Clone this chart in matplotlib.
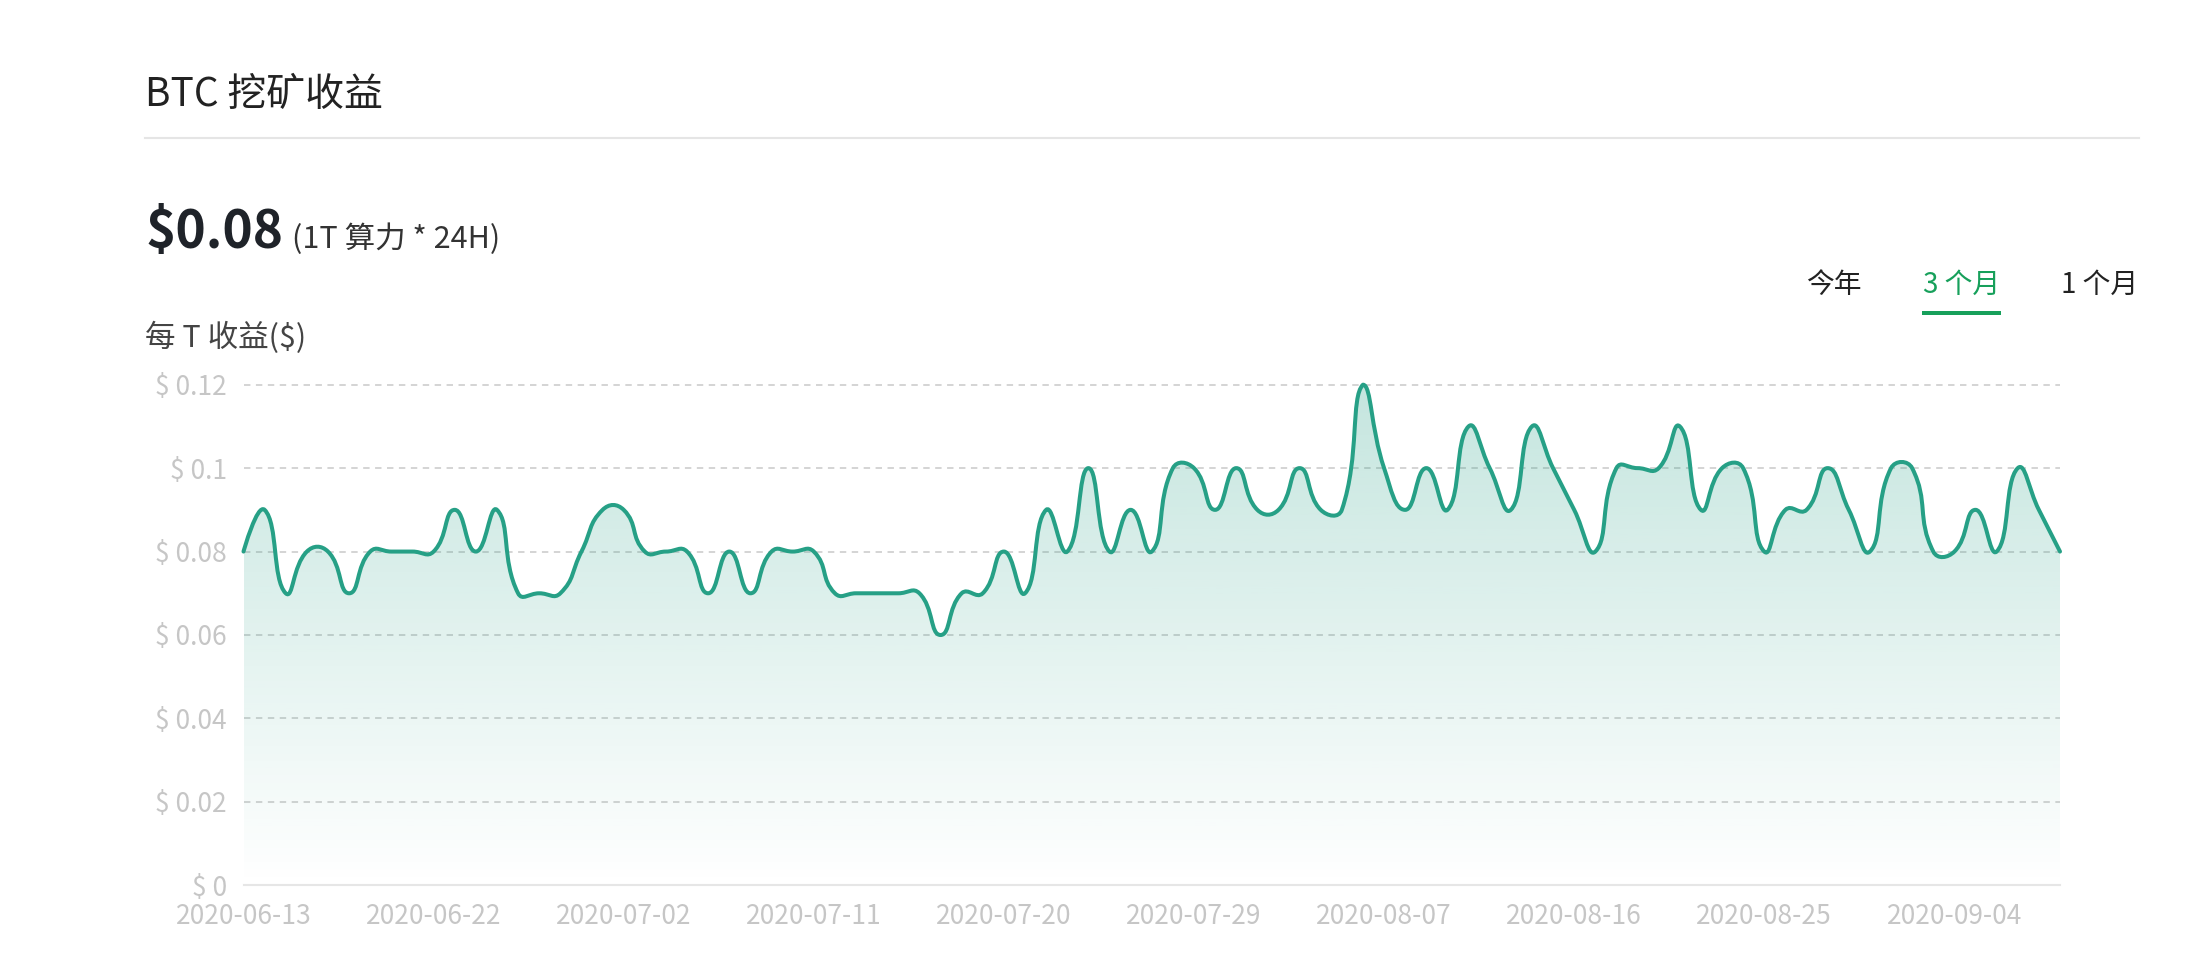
import numpy as np
import pandas as pd
import matplotlib
matplotlib.use('Agg')
import matplotlib.pyplot as plt
from matplotlib.path import Path
from matplotlib.patches import PathPatch, Rectangle
from matplotlib.lines import Line2D
from matplotlib import font_manager
from matplotlib.colors import to_rgb

plt.rcParams['font.family'] = ['Noto Sans CJK SC', 'DejaVu Sans']

# daily categories, two days are absent in the source (06-27, 08-30)
dates = pd.date_range('2020-06-13', '2020-09-09').strftime('%Y-%m-%d').tolist()
dates = [d for d in dates if d not in ('2020-06-27', '2020-08-30')]

# income per T ($)
values = [0.08, 0.09, 0.07, 0.08, 0.08, 0.07, 0.08, 0.08, 0.08, 0.08,
          0.09, 0.08, 0.09, 0.07, 0.07, 0.07, 0.08, 0.09, 0.09, 0.08,
          0.08, 0.08, 0.07, 0.08, 0.07, 0.08, 0.08, 0.08, 0.07, 0.07,
          0.07, 0.07, 0.07, 0.06, 0.07, 0.07, 0.08, 0.07, 0.09, 0.08,
          0.10, 0.08, 0.09, 0.08, 0.10, 0.10, 0.09, 0.10, 0.09, 0.09,
          0.10, 0.09, 0.09, 0.12, 0.10, 0.09, 0.10, 0.09, 0.11, 0.10,
          0.09, 0.11, 0.10, 0.09, 0.08, 0.10, 0.10, 0.10, 0.11, 0.09,
          0.10, 0.10, 0.08, 0.09, 0.09, 0.10, 0.09, 0.08, 0.10, 0.10,
          0.08, 0.08, 0.09, 0.08, 0.10, 0.09, 0.08]

y_ticks = [0, 0.02, 0.04, 0.06, 0.08, 0.10, 0.12]
y_labels = ['$ 0', '$ 0.02', '$ 0.04', '$ 0.06', '$ 0.08', '$ 0.1', '$ 0.12']
label_every = 9
tabs = ['今年', '3 个月', '1 个月']

line_color = '#26a086'
green = '#17a05b'
W, H = 2202, 960


def smooth_path(xs, ys, sx, sy, smooth=0.5):
    # bezier smoothing like echarts 4 (control points from neighbours, bbox constraint)
    P = np.column_stack([np.asarray(xs, float) * sx, np.asarray(ys, float) * sy])
    lo, hi = P.min(axis=0), P.max(axis=0)
    n = len(P)
    verts = [P[0]]
    codes = [Path.MOVETO]
    cp0 = P[0].copy()
    for i in range(1, n):
        p, prev = P[i], P[i - 1]
        if i == n - 1:
            cp1 = p.copy()
            v = np.zeros(2)
            ratio = 0.5
        else:
            nxt = P[i + 1]
            v = nxt - prev
            l0 = np.hypot(*(p - prev))
            l1 = np.hypot(*(nxt - p))
            ratio = l1 / (l0 + l1)
            cp1 = p - v * smooth * (1 - ratio)
        cp0 = np.clip(cp0, lo, hi)
        cp1 = np.clip(cp1, lo, hi)
        verts += [cp0, cp1, p]
        codes += [Path.CURVE4] * 3
        cp0 = p + v * smooth * ratio
    return np.array(verts) / [sx, sy], codes


fig = plt.figure(figsize=(W / 100, H / 100), dpi=100)
ax = fig.add_axes([243.5 / W, 1 - 885.3 / H, (2060 - 243.5) / W, (885.3 - 384.7) / H])

xs = np.arange(len(values))
n = len(values)
verts, codes = smooth_path(xs, values, 21.12, 4170)

# gradient area under the line
area = Path(np.vstack([[0, 0], verts, [n - 1, 0], [0, 0]]),
            [Path.MOVETO, Path.LINETO] + codes[1:] + [Path.LINETO, Path.CLOSEPOLY])
grad = np.zeros((256, 1, 4))
grad[..., :3] = to_rgb(line_color)
grad[:, 0, 3] = np.linspace(0.27, 0.0, 256)
im = ax.imshow(grad, extent=[0, n - 1, 0, max(values)], origin='upper', aspect='auto', zorder=2)
clip = PathPatch(area, facecolor='none', edgecolor='none')
ax.add_patch(clip)
im.set_clip_path(clip)

ax.add_patch(PathPatch(Path(verts, codes), fill=False, edgecolor=line_color, lw=2.9,
                       capstyle='round', joinstyle='round', clip_on=False, zorder=4))

# grid
for yt in y_ticks[1:]:
    ax.axhline(yt, color='#c9c9c9', lw=1.1, ls=(0, (4.2, 3.6)), zorder=1, clip_on=False)
ax.axhline(0, color='#e6e6e6', lw=1.5, zorder=1, clip_on=False)

ax.set_xlim(0, n - 1)
ax.set_ylim(0, 0.12)
for s in ax.spines.values():
    s.set_visible(False)
ax.set_yticks(y_ticks)
ax.set_yticklabels(y_labels)
ax.set_xticks(xs[::label_every])
ax.set_xticklabels(dates[::label_every])
ax.tick_params(axis='both', length=0, colors='#c6c6c6')
ax.tick_params(axis='y', pad=12)
ax.tick_params(axis='x', pad=13)

names = {f.name for f in font_manager.fontManager.ttflist}
if 'Liberation Sans Narrow' in names:
    tick_font, tick_size = 'Liberation Sans Narrow', 22
else:
    tick_font, tick_size = 'Noto Sans CJK SC', 19
for lbl in ax.get_xticklabels() + ax.get_yticklabels():
    lbl.set_fontfamily(tick_font)
    lbl.set_fontsize(tick_size)

# header
fig.text(145 / W, 1 - 95 / H, 'BTC 挖矿收益', fontsize=28, color='#222222', va='center')
fig.add_artist(Line2D([145 / W, 2139 / W], [1 - 138 / H] * 2, color='#e5e5e5', lw=1.5))
fig.text(145 / W, 1 - 248 / H, '$0.08', fontsize=37, fontweight='bold', color='#1f2329', va='baseline')
fig.text(292 / W, 1 - 248 / H, '(1T 算力 * 24H)', fontsize=22, color='#333333', va='baseline')
fig.text(145 / W, 1 - 338 / H, '每 T 收益($)', fontsize=22, color='#444444', va='center')

tab_x = [1834, 1962, 2100]
for t, x in zip(tabs, tab_x):
    fig.text(x / W, 1 - 285 / H, t, fontsize=20, ha='center', va='center',
             color=green if t == '3 个月' else '#222222')
fig.add_artist(Rectangle((1922 / W, 1 - 315 / H), 79 / W, 4 / H, transform=fig.transFigure,
                         color=green, lw=0))

fig.savefig('out.png', dpi=100)
